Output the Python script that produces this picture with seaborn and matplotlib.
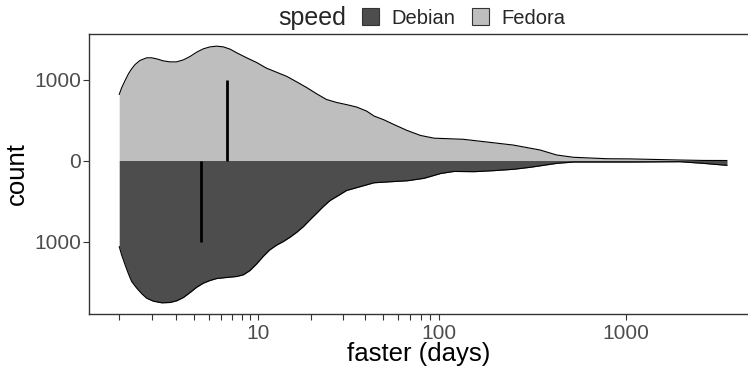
import numpy as np
import matplotlib
matplotlib.use("Agg")
import matplotlib.pyplot as plt
import seaborn as sns
from matplotlib.patches import Patch
from matplotlib.ticker import FixedLocator, FixedFormatter, NullLocator

# ---- data ----
fedora_x = [1.0, 1.06, 1.15, 1.24, 1.33, 1.43, 1.58, 1.80, 1.98, 2.17, 2.44, 2.73,
            3.05, 3.40, 3.77, 4.18, 4.62, 5.10, 5.62, 6.18, 6.80, 7.46, 8.56, 9.81,
            11.2, 12.8, 14.6, 16.7, 19.0, 21.6, 24.5, 27.9, 31.6, 35.9, 40.7, 44.6,
            50.6, 57.3, 67.7, 79.9, 94.3, 135.6, 251, 349, 429, 526, 800, 1056,
            1952, 2588, 3475]
fedora_count = [815, 897, 988, 1070, 1132, 1185, 1235, 1268, 1268, 1255, 1230, 1218,
                1218, 1243, 1284, 1338, 1379, 1403, 1412, 1403, 1375, 1330, 1268, 1210,
                1140, 1090, 1040, 970, 900, 823, 753, 716, 690, 660, 610, 550,
                502, 444, 370, 309, 276, 262, 191, 130, 68, 40, 22, 20,
                6, 1, 0]

debian_x = [1.0, 1.06, 1.15, 1.24, 1.33, 1.48, 1.64, 1.80, 2.04, 2.37, 2.73, 3.05,
            3.40, 3.77, 4.18, 4.62, 5.10, 5.62, 6.48, 7.46, 8.18, 8.96, 9.81, 10.7,
            11.7, 12.8, 14.0, 15.3, 16.7, 18.2, 19.8, 21.6, 23.5, 25.6, 27.9, 31.6,
            44.6, 55.0, 67.7, 83.3, 102.5, 120.8, 154.7, 198, 253, 309, 429, 526,
            1056, 1952, 2588, 3475]
debian_count = [1062, 1165, 1288, 1399, 1494, 1576, 1646, 1700, 1737, 1757, 1753, 1732,
                1691, 1630, 1564, 1514, 1481, 1457, 1444, 1432, 1411, 1358, 1276, 1185,
                1103, 1045, 1000, 946, 885, 815, 732, 650, 568, 494, 444, 370,
                275, 262, 250, 220, 160, 135, 138, 125, 108, 84, 35, 19,
                19, 15, 35, 60]

medians = {"Debian": 4.48, "Fedora": 6.52}
median_len = 1000

x_ticks = [1, 2, 3, 4, 5, 6, 7, 8, 9, 10, 20, 30, 40, 50, 60, 70, 80, 90, 100, 1000]
x_labelled = {10: "10", 100: "100", 1000: "1000"}
y_ticks = [-1000, 0, 1000]
y_labels = ["1000", "0", "1000"]

DEB = "#4D4D4D"
FED = "#BEBEBE"

sns.set_theme(style="ticks")
plt.rcParams["font.family"] = ["Liberation Sans", "DejaVu Sans"]

def fwd(x):
    x = np.asarray(x, dtype=float)
    return np.log10(np.maximum(x, -0.999999) + 1)

def inv(y):
    return 10 ** np.asarray(y, dtype=float) - 1

W, H = 748, 372
fig = plt.figure(figsize=(W / 100, H / 100), dpi=100)
ax = fig.add_axes([89 / W, (H - 314) / H, (W - 89) / W, 280 / H])
ax.set_xscale("function", functions=(fwd, inv))

deb_neg = [-v for v in debian_count]
ax.fill_between(fedora_x, 0, fedora_count, color=FED, linewidth=0)
ax.fill_between(debian_x, deb_neg, 0, color=DEB, linewidth=0)
sns.lineplot(x=fedora_x, y=fedora_count, color="black", linewidth=0.8, ax=ax,
             sort=False, estimator=None)
sns.lineplot(x=debian_x, y=deb_neg, color="black", linewidth=0.8, ax=ax,
             sort=False, estimator=None)
ax.vlines(medians["Fedora"], 0, median_len, color="black", linewidth=2)
ax.vlines(medians["Debian"], -median_len, 0, color="black", linewidth=2)

ax.set_xlim(inv(0.140), inv(3.653))
ax.set_ylim(-1895, 1562)

ax.xaxis.set_major_locator(FixedLocator(x_ticks))
ax.xaxis.set_major_formatter(FixedFormatter([x_labelled.get(t, "") for t in x_ticks]))
ax.xaxis.set_minor_locator(NullLocator())
ax.yaxis.set_major_locator(FixedLocator(y_ticks))
ax.yaxis.set_major_formatter(FixedFormatter(y_labels))

for side in ["left", "bottom", "top"]:
    ax.spines[side].set_color("#333333")
    ax.spines[side].set_linewidth(1.0)
ax.spines["right"].set_visible(False)

ax.tick_params(axis="both", direction="out", length=4.3, width=0.8, color="#333333",
               labelcolor="#4D4D4D", labelsize=15)
ax.tick_params(axis="x", pad=3.0)
ax.tick_params(axis="y", pad=1.5)

ax.set_xlabel("faster (days)", fontsize=18.5, color="black", labelpad=-0.5)
ax.set_ylabel("count", fontsize=18.5, color="black", labelpad=3.5)

handles = [Patch(facecolor=DEB, edgecolor="#333333", linewidth=0.8, label="Debian"),
           Patch(facecolor=FED, edgecolor="#333333", linewidth=0.8, label="Fedora")]
fig.legend(handles=handles, loc="center left", bbox_to_anchor=(361.7 / W, 1 - 18 / H),
           ncol=2, frameon=False, fontsize=14.5, handlelength=0.87, handleheight=0.87,
           handletextpad=0.62, columnspacing=0.8, borderpad=0, borderaxespad=0)
fig.text(278 / W, 1 - 18 / H, "speed", fontsize=18, va="center", ha="left")

fig.savefig("out.png", dpi=100)
